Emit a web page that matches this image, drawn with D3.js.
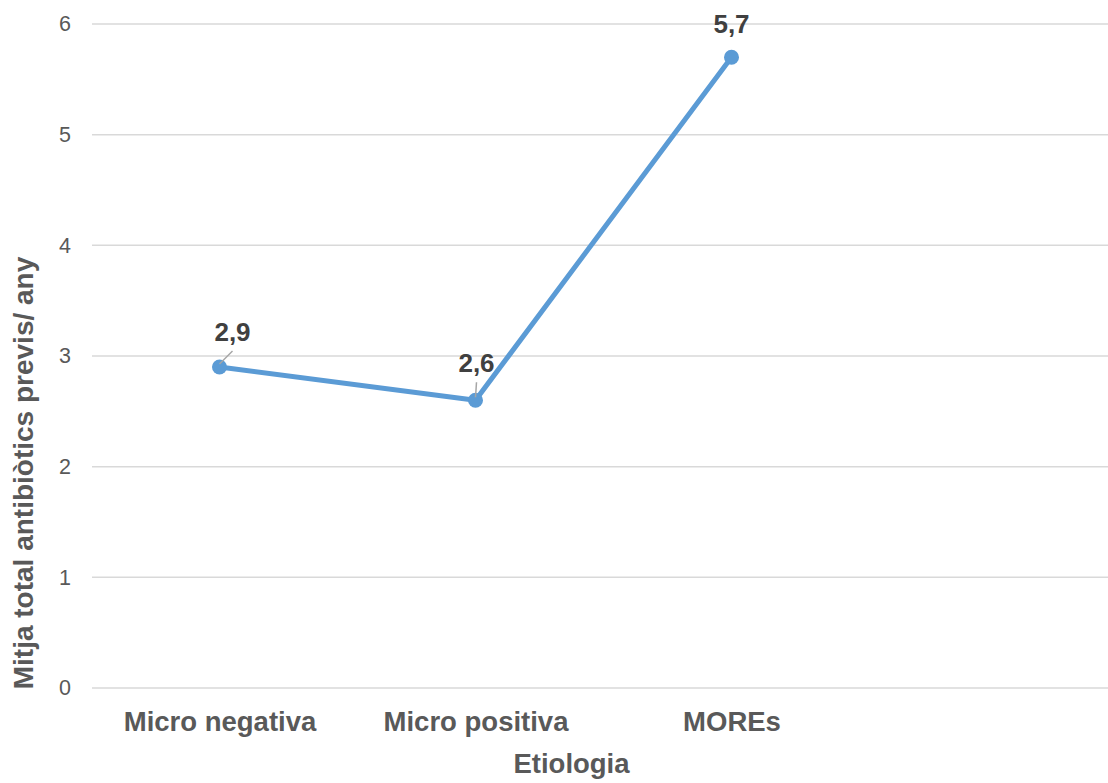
<!DOCTYPE html>
<html>
<head>
<meta charset="utf-8">
<script src="https://cdn.jsdelivr.net/npm/d3@7/dist/d3.min.js"></script>
<style>
  html, body { margin: 0; padding: 0; background: #fff; }
  svg { display: block; font-family: Arial, "Liberation Sans", sans-serif; }
</style>
</head>
<body>
<svg id="chart" width="1108" height="783"></svg>
<script>
// Categories (the last slot is an empty category in the workbook range)
const categories = ["Micro negativa", "Micro positiva", "MOREs", ""];
// Mean number of prior antibiotics per year, by aetiology
const values = [2.9, 2.6, 5.7];
const valueLabels = ["2,9", "2,6", "5,7"];
const yTicks = [0, 1, 2, 3, 4, 5, 6];

// Manual placement of the data labels (offset from the marker, px)
const labelDx = [13, 1, 0];
const labelDy = [-26, -28, -24];
// Labels that were dragged away get a leader line back to their marker
const hasLeader = [true, true, false];

const svg = d3.select("#chart");

const x = d3.scalePoint()
  .domain(categories.map((c, i) => i))
  .range([91.5, 1115.5])
  .padding(0.5);

const y = d3.scaleLinear().domain([0, 6]).range([688, 24]);

// Horizontal gridlines
svg.append("g")
  .selectAll("line")
  .data(yTicks)
  .join("line")
  .attr("x1", 92)
  .attr("x2", 1116)
  .attr("y1", d => y(d))
  .attr("y2", d => y(d))
  .attr("stroke", "#D9D9D9")
  .attr("stroke-width", 1.5);

// Y axis tick labels
const yAxis = d3.axisLeft(y).tickValues(yTicks).tickSize(0).tickPadding(0)
  .tickFormat(d3.format("d"));
const gy = svg.append("g").attr("transform", "translate(71,0)").call(yAxis);
gy.select(".domain").remove();
gy.selectAll("text")
  .attr("fill", "#595959")
  .style("font-size", "21.5px")
  .style("font-family", "Arial, 'Liberation Sans', sans-serif");

// X axis category labels
const xAxis = d3.axisBottom(x).tickSize(0).tickPadding(0)
  .tickFormat(i => categories[i]);
const gx = svg.append("g").attr("transform", "translate(0,711)").call(xAxis);
gx.select(".domain").remove();
gx.selectAll("text")
  .attr("fill", "#595959")
  .attr("dy", "0.71em")
  .style("font-size", "27.5px")
  .style("font-weight", "bold")
  .style("font-family", "Arial, 'Liberation Sans', sans-serif");

// Axis titles
svg.append("text")
  .attr("x", 571.5)
  .attr("y", 773)
  .attr("text-anchor", "middle")
  .attr("fill", "#595959")
  .style("font-size", "27.5px")
  .style("font-weight", "bold")
  .text("Etiologia");

svg.append("text")
  .attr("transform", "translate(33,473) rotate(-90)")
  .attr("text-anchor", "middle")
  .attr("fill", "#595959")
  .style("font-size", "28px")
  .style("font-weight", "bold")
  .text("Mitja total antibiòtics previs/ any");

// Series line
const pts = values.map((v, i) => ({ i, v }));
const line = d3.line().x(d => x(d.i)).y(d => y(d.v));

svg.append("path")
  .datum(pts)
  .attr("d", line)
  .attr("fill", "none")
  .attr("stroke", "#5B9BD5")
  .attr("stroke-width", 5)
  .attr("stroke-linejoin", "round")
  .attr("stroke-linecap", "round");

// Markers
svg.append("g")
  .selectAll("circle")
  .data(pts)
  .join("circle")
  .attr("cx", d => x(d.i))
  .attr("cy", d => y(d.v))
  .attr("r", 7.5)
  .attr("fill", "#5B9BD5");

// Leader lines
svg.append("g")
  .selectAll("line")
  .data(pts.filter(d => hasLeader[d.i]))
  .join("line")
  .attr("x1", d => x(d.i) + labelDx[d.i])
  .attr("y1", d => y(d.v) + labelDy[d.i] + 10)
  .attr("x2", d => x(d.i))
  .attr("y2", d => y(d.v) - 3)
  .attr("stroke", "#A6A6A6")
  .attr("stroke-width", 1.5);

// Data labels
svg.append("g")
  .selectAll("text")
  .data(pts)
  .join("text")
  .attr("x", d => x(d.i) + labelDx[d.i])
  .attr("y", d => y(d.v) + labelDy[d.i])
  .attr("text-anchor", "middle")
  .attr("fill", "#404040")
  .style("font-size", "26px")
  .style("font-weight", "bold")
  .text(d => valueLabels[d.i]);
</script>
</body>
</html>
